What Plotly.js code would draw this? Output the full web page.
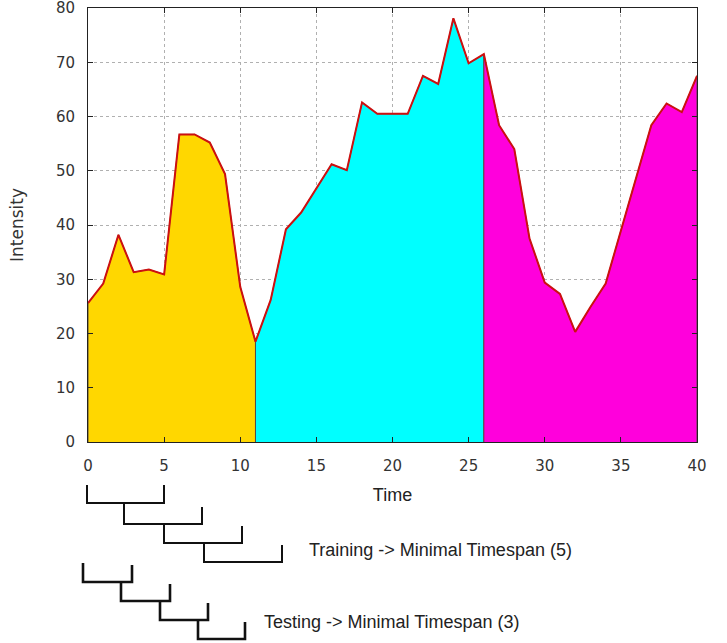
<!DOCTYPE html>
<html><head><meta charset="utf-8">
<script src="https://cdn.plot.ly/plotly-3.0.1.min.js"></script>
<style>body{margin:0;background:#fff}</style>
</head><body><div id="chart" style="width:727px;height:643px"></div>
<script>
// ---- data ----
const time = [0,1,2,3,4,5,6,7,8,9,10,11,12,13,14,15,16,17,18,19,20,21,22,23,24,25,26,27,28,29,30,31,32,33,34,35,36,37,38,39,40];
const intensity = [25.6,29.2,38.2,31.3,31.8,30.9,56.7,56.7,55.2,49.4,28.6,18.5,26.2,39.2,42.3,46.8,51.2,50.1,62.6,60.5,60.5,60.5,67.5,66.0,78.1,69.8,71.5,58.4,54.0,37.5,29.4,27.3,20.3,24.9,29.2,39.0,48.7,58.4,62.4,60.8,67.5];
const segmentBounds = [0, 11, 26, 40];
const segmentColors = ['#FFD700', '#00FFFF', '#FF00DC'];
const xTicks = [0,5,10,15,20,25,30,35,40];
const yTicks = [0,10,20,30,40,50,60,70,80];
const xTitle = 'Time';
const yTitle = 'Intensity';
const trainingLabel = 'Training -> Minimal Timespan (5)';
const testingLabel = 'Testing -> Minimal Timespan (3)';

// ---- traces ----
const traces = [];
for (let s = 0; s < segmentBounds.length - 1; s++) {
  const xs = [], ys = [];
  time.forEach((t, i) => { if (t >= segmentBounds[s] && t <= segmentBounds[s+1]) { xs.push(t); ys.push(intensity[i]); } });
  traces.push({
    x: [xs[0], ...xs, xs[xs.length-1]],
    y: [0, ...ys, 0],
    type: 'scatter', mode: 'lines', fill: 'toself',
    fillcolor: segmentColors[s],
    line: {color: '#5a4a40', width: 1},
    hoverinfo: 'skip', showlegend: false
  });
}
traces.push({
  x: time, y: intensity, type: 'scatter', mode: 'lines',
  line: {color: '#cc1010', width: 2}, showlegend: false
});

// ---- layout helpers (pixel -> paper) ----
const L = 88, T = 8, W = 609, H = 434;
const px = v => (v - L) / W;
const py = v => (T + H - v) / H;
function bracket(x1, yl, x2, yr, yb, w) {
  return {type: 'path', xref: 'paper', yref: 'paper',
    path: `M ${px(x1)},${py(yl)} L ${px(x1)},${py(yb)} L ${px(x2)},${py(yb)} L ${px(x2)},${py(yr)}`,
    line: {color: '#111', width: w}};
}
const shapes = [
  bracket(87,485,164,485,503,2), bracket(124,503,202,507,524,2),
  bracket(164,524,242,526,543,2), bracket(204,543,282,545,562,2),
  bracket(83,563,132,565,582,2.6), bracket(121,582,170,584,601,2.6),
  bracket(160,601,208,603,620,2.6), bracket(198,620,245,622,639,2.6)
];
const sans = '"Liberation Sans", Arial, sans-serif';
const axisCommon = {
  showline: true, linecolor: '#222', linewidth: 1, mirror: 'ticks',
  ticks: 'inside', ticklen: 5, tickcolor: '#222',
  showgrid: true, gridcolor: '#b0b0b0', griddash: 'dot', gridwidth: 1,
  zeroline: false, ticklabeloverflow: 'allow',
  tickfont: {family: 'DejaVu Sans', size: 15, color: '#333'}
};
const layout = {
  width: 727, height: 643,
  margin: {l: L, r: 727 - L - W, t: T, b: 643 - T - H},
  paper_bgcolor: '#fff', plot_bgcolor: '#fff',
  xaxis: Object.assign({}, axisCommon, {range: [0, 40], tickvals: xTicks, automargin: false,
    ticklabelstandoff: 10,
    title: {text: xTitle, standoff: 14, font: {family: sans, size: 18, color: '#222'}}}),
  yaxis: Object.assign({}, axisCommon, {range: [0, 80], tickvals: yTicks, automargin: false,
    ticklabelstandoff: 9,
    title: {text: yTitle, standoff: 27, font: {family: 'DejaVu Sans', size: 17, color: '#333'}}}),
  shapes: shapes,
  annotations: [
    {text: trainingLabel, xref: 'paper', yref: 'paper', x: px(307), y: py(550), xanchor: 'left', yanchor: 'middle', showarrow: false, font: {family: sans, size: 18, color: '#222'}},
    {text: testingLabel, xref: 'paper', yref: 'paper', x: px(262), y: py(622), xanchor: 'left', yanchor: 'middle', showarrow: false, font: {family: sans, size: 18, color: '#222'}}
  ]
};
Plotly.newPlot('chart', traces, layout, {displayModeBar: false, staticPlot: true});
</script></body></html>
